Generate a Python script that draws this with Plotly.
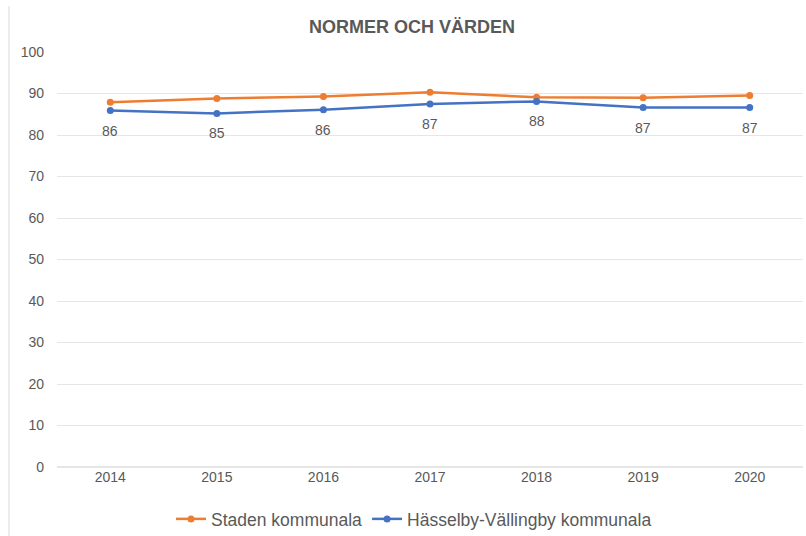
import plotly.graph_objects as go

years = ["2014", "2015", "2016", "2017", "2018", "2019", "2020"]
staden = [87.9, 88.8, 89.3, 90.3, 89.1, 89.0, 89.5]
hv = [85.9, 85.2, 86.1, 87.5, 88.1, 86.6, 86.6]
hv_labels = ["86", "85", "86", "87", "88", "87", "87"]
y_ticks = [0, 10, 20, 30, 40, 50, 60, 70, 80, 90, 100]

W, H = 806, 536
L, R, T, B = 57, 3, 52, 69
GREY = "#595959"

fig = go.Figure()
fig.add_trace(go.Scatter(
    x=years, y=staden, name="Staden kommunala", mode="lines+markers",
    line=dict(color="#ED7D31", width=2.5), marker=dict(size=7, color="#ED7D31"),
))
fig.add_trace(go.Scatter(
    x=years, y=hv, name="Hässelby-Vällingby kommunala", mode="lines+markers",
    line=dict(color="#4472C4", width=2.5), marker=dict(size=7, color="#4472C4"),
))
for i, (v, lab) in enumerate(zip(hv, hv_labels)):
    fig.add_annotation(x=i, y=v, xref="x", yref="y", text=lab, showarrow=False,
                       yshift=-20, font=dict(size=14, color=GREY))

fig.update_layout(
    width=W, height=H,
    margin=dict(l=L, r=R, t=T, b=B, autoexpand=False),
    paper_bgcolor="white", plot_bgcolor="white",
    font=dict(family="Liberation Sans, Arial, sans-serif", color=GREY, size=14),
    title=dict(text="<b>NORMER OCH VÄRDEN</b>", x=412 / W, xref="container", xanchor="center",
               y=1 - 27 / H, yanchor="middle", font=dict(size=18, color=GREY)),
    showlegend=True,
    legend=dict(orientation="h", x=(414 - L) / (W - L - R), xanchor="center",
                y=-(519 - (H - B)) / (H - T - B),
                yanchor="middle", font=dict(size=17.5, color=GREY), itemwidth=30,
                tracegroupgap=0),
    xaxis=dict(type="category", showgrid=False, showline=False, ticks="",
               tickfont=dict(size=14, color=GREY), range=[-0.5, 6.5]),
    yaxis=dict(range=[0, 100], tickvals=y_ticks, showgrid=True, gridcolor="#E6E6E6",
               gridwidth=1, zeroline=True, zerolinecolor="#E6E6E6", showline=False,
               ticks="", ticklabelstandoff=12, tickfont=dict(size=14, color=GREY)),
)

fig.add_shape(type="line", xref="paper", yref="paper",
              x0=(9 - L) / (W - L - R), x1=(9 - L) / (W - L - R),
              y0=-(B) / (H - T - B), y1=1 + (T - 6) / (H - T - B),
              line=dict(color="#D9D9D9", width=1))

fig.write_html("out.html", config={"displayModeBar": False},
               post_script="document.body.style.margin='0';document.body.style.overflow='hidden';")
